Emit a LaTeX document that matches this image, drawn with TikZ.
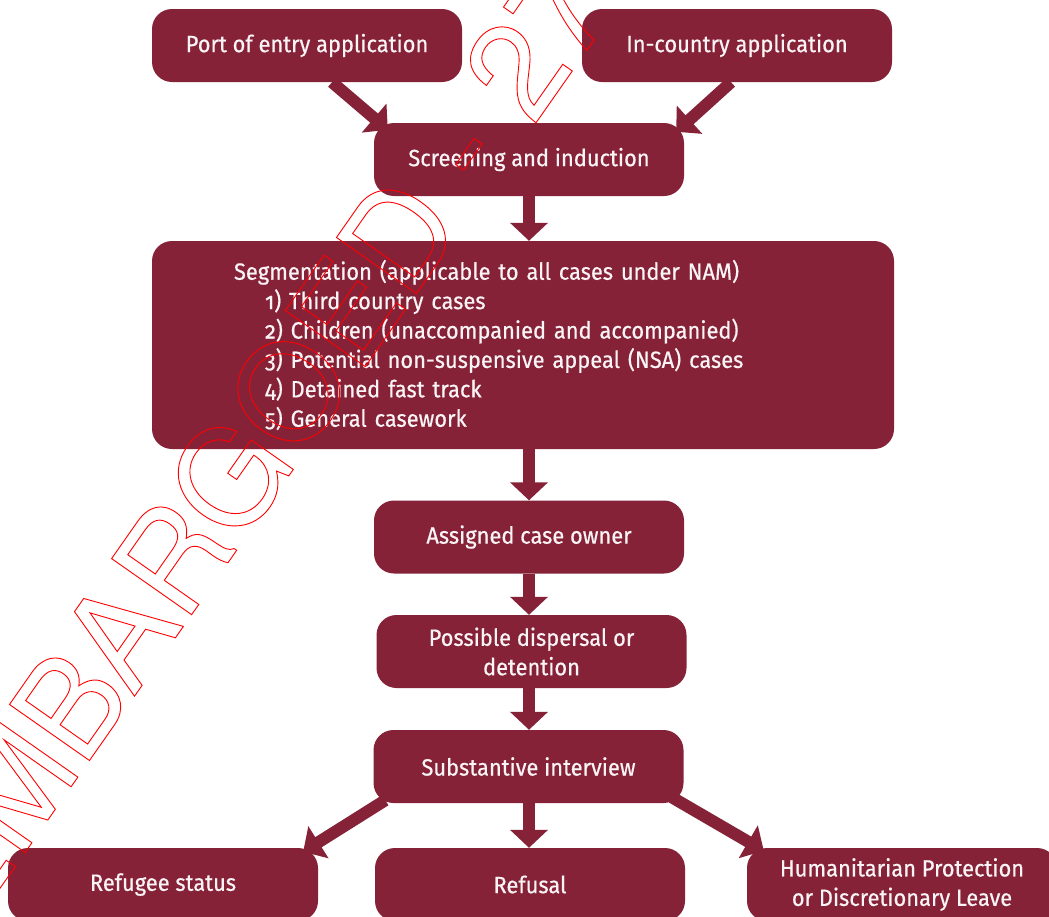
\documentclass[tikz,border=0pt]{standalone}
\usepackage{fontspec}
\setmainfont{Fira Sans}[Numbers=OldStyle, FakeStretch=0.93, FakeBold=0.5]
\newfontfamily\wmfont{TeX Gyre Heros}
\usetikzlibrary{arrows.meta,calc}
\definecolor{boxred}{RGB}{134,34,55}
\definecolor{boxtext}{RGB}{250,244,246}
\begin{document}
\begin{tikzpicture}[x=1pt,y=1pt,
  box/.style={fill=boxred, text=boxtext, rounded corners=20pt, minimum width=310pt,
    minimum height=73pt, inner sep=0pt, align=center,
    font=\fontsize{23.5}{29.4}\selectfont},
  flow/.style={draw=boxred, line width=12pt, -{Triangle[width=37pt,length=18pt]}},
  wm/.style={text=red, inner sep=0pt, font=\wmfont\fontsize{134}{134}\selectfont}]
\useasboundingbox (0,0) rectangle (1049,-916);
% boxes
\node[box] (A) at (307,-45.5) {Port of entry application};
\node[box] (B) at (737,-45.5) {In-country application};
\node[box] (C) at (529,-159.5) {Screening and induction};
\node[box, minimum width=742pt, minimum height=208pt, text width=578pt,
  inner xsep=82pt, align=left] (D) at (523,-345)
  {Segmentation (applicable to all cases under NAM)\\
   \hspace*{31pt}1) Third country cases\\
   \hspace*{31pt}2) Children (unaccompanied and accompanied)\\
   \hspace*{31pt}3) Potential non-suspensive appeal (NSA) cases\\
   \hspace*{31pt}4) Detained fast track\\
   \hspace*{31pt}5) General casework};
\node[box] (E) at (529,-537) {Assigned case owner};
\node[box] (F) at (531.5,-651.5) {Possible dispersal or\\detention};
\node[box] (G) at (528.5,-766.5) {Substantive interview};
\node[box] (H) at (163,-884.5) {Refugee status};
\node[box] (I) at (530,-884.5) {Refusal};
\node[box] (J) at (902,-884.5) {Humanitarian Protection\\or Discretionary Leave};
% connectors
\draw[flow] ($(A.south)+(25,0)$) -- ($(C.north west)+(14,-7)$);
\draw[flow] ($(B.south)+(-6,0)$) -- ($(C.north east)+(-8,-9)$);
\draw[flow] (C.south) -- (C.south |- D.north);
\draw[flow] (D.south -| C.south) -- (C.south |- E.north);
\draw[flow] (E.south) -- (E.south |- F.north);
\draw[flow] (F.south -| E.south) -- (E.south |- G.north);
\draw[flow] ($(G.south west)+(12,3)$) -- ($(H.north east)+(-15,-4)$);
\draw[flow] ($(G.south east)+(-12,6)$) -- ($(J.north west)+(17,-3)$);
\draw[flow] (G.south -| E.south) -- (E.south |- I.north);
% watermark
\node[wm, rotate=55, anchor=base west] (wm) at (-32,-934)
  {\rlap{.}\special{pdf:literal direct 1 Tr 0.9 w}EMBARGOED - 27\special{pdf:literal direct 0 Tr}};
\end{tikzpicture}
\end{document}
